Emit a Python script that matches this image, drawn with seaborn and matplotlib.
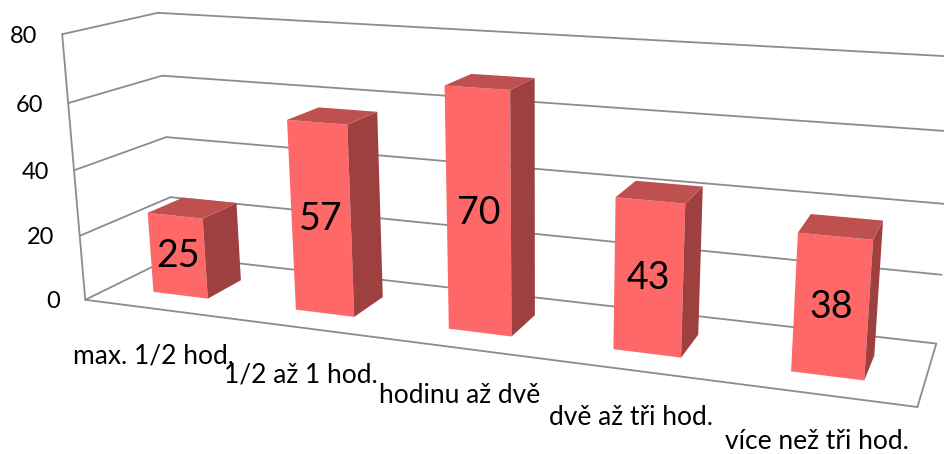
import numpy as np
import pandas as pd
import matplotlib
matplotlib.use("Agg")
import matplotlib.pyplot as plt
import matplotlib.transforms as mtransforms
from matplotlib.patches import Rectangle
import seaborn as sns

# chart values
categories = ["max. 1/2 hod.", "1/2 až 1 hod.", "hodinu až dvě", "dvě až tři hod.", "více než tři hod."]
values = [25, 57, 70, 43, 38]
y_ticks = [0, 20, 40, 60, 80]

WIDTH, HEIGHT = 945, 454
BAR_WIDTH = 0.39
Z_FRONT, Z_BACK = 0.28, 0.68
X_MIN, X_MAX = -0.5, 4.5
Y_MAX = 80

# camera calibration: box corners (category pos, value, depth) -> picture pixels
calib_3d = np.array([
    [X_MIN, 0, 0], [X_MIN, 20, 0], [X_MIN, 40, 0], [X_MIN, 60, 0], [X_MIN, 80, 0],
    [X_MIN, 0, 1], [X_MIN, 20, 1], [X_MIN, 40, 1], [X_MIN, 60, 1], [X_MIN, 80, 1],
    [X_MAX, 0, 1], [X_MAX, 40, 1], [X_MAX, 80, 1], [X_MAX, 0, 0],
], dtype=float)
calib_px = np.array([
    [83.5, 300], [80, 236], [74, 170], [69, 103], [63, 34],
    [177, 256], [170, 197], [165, 137], [162, 76], [157, 13],
    [935.7, 343.3], [948, 204], [958, 57], [917.3, 407.3],
], dtype=float)


def fit_camera(pts, px):
    # direct linear transform, p34 fixed to 1
    rows, rhs = [], []
    for (x, y, z), (u, v) in zip(pts, px):
        rows.append([x, y, z, 1, 0, 0, 0, 0, -u * x, -u * y, -u * z])
        rows.append([0, 0, 0, 0, x, y, z, 1, -v * x, -v * y, -v * z])
        rhs += [u, v]
    sol = np.linalg.lstsq(np.array(rows), np.array(rhs), rcond=None)[0]
    return np.append(sol, 1.0).reshape(3, 4)


CAMERA = fit_camera(calib_3d, calib_px)


class Plane(mtransforms.Transform):
    """Maps 2D coordinates on a plane of the box to display pixels."""
    input_dims = 2
    output_dims = 2
    is_separable = False
    has_inverse = False

    def __init__(self, to_3d):
        super().__init__()
        self.to_3d = to_3d

    def transform_non_affine(self, values):
        values = np.asarray(values, dtype=float)
        x, y, z = self.to_3d(values[:, 0], values[:, 1])
        h = CAMERA @ np.vstack([x, y, z, np.ones_like(x)])
        return np.column_stack([h[0] / h[2], HEIGHT - h[1] / h[2]])


def depth_plane(depth):
    return Plane(lambda x, y: (x, y, np.full_like(x, depth)))


sns.set_theme(style="white")
plt.rcParams["font.family"] = ["Lato", "DejaVu Sans"]

df = pd.DataFrame({"kategorie": categories, "pocet": values})

fig = plt.figure(figsize=(WIDTH / 100, HEIGHT / 100), dpi=100, facecolor="white")
ax = fig.add_axes([0, 0, 1, 1])
sns.barplot(data=df, x="kategorie", y="pocet", color="#FF6868", saturation=1,
            width=BAR_WIDTH, errorbar=None, ax=ax)
ax.set_axis_off()

LINE = dict(color="#8C8C8C", lw=1.3, zorder=1, solid_capstyle="round")
wall_front = depth_plane(0.0)
wall_back = depth_plane(1.0)
left_wall = Plane(lambda z, y: (np.full_like(z, X_MIN), y, z))
right_floor = Plane(lambda x, z: (np.full_like(x, X_MAX), np.zeros_like(x), z))

# gridlines on back wall and left wall
for tick in y_ticks:
    ax.plot([X_MIN, X_MAX], [tick, tick], transform=wall_back, **LINE)
    ax.plot([0, 1], [tick, tick], transform=left_wall, **LINE)
    ax.annotate(str(tick), xy=(X_MIN, tick), xycoords=wall_front, xytext=(-25, -2),
                textcoords="offset pixels", ha="right", va="center", fontsize=17, color="black")
ax.plot([X_MIN, X_MIN], [0, Y_MAX], transform=wall_front, **LINE)
ax.plot([X_MIN, X_MAX], [0, 0], transform=wall_front, **LINE)
ax.plot([0, 1], [0, 1], transform=right_floor, **LINE)

# seaborn draws the front faces, side and top faces follow from them
for i, bar in enumerate(list(ax.patches)):
    x0, w, h = bar.get_x(), bar.get_width(), bar.get_height()
    bar.set_transform(depth_plane(Z_FRONT))
    bar.set_linewidth(0)
    bar.set_zorder(3)
    side = Plane(lambda z, y, xr=x0 + w: (np.full_like(z, xr), y, z))
    top = Plane(lambda x, z, yt=h: (x, np.full_like(x, yt), z))
    ax.add_patch(Rectangle((Z_FRONT, 0), Z_BACK - Z_FRONT, h, transform=side,
                           facecolor="#9E4040", linewidth=0, zorder=3))
    ax.add_patch(Rectangle((x0, Z_FRONT), w, Z_BACK - Z_FRONT, transform=top,
                           facecolor="#BE5050", linewidth=0, zorder=3))
    ax.annotate(str(values[i]), xy=(i, h / 2), xycoords=depth_plane(Z_FRONT),
                ha="center", va="center", fontsize=27, color="black", zorder=4)
    ax.annotate(categories[i], xy=(i, 0), xycoords=wall_front, xytext=(-2, -55),
                textcoords="offset pixels", ha="center", va="baseline",
                fontsize=19, color="black", zorder=4)

fig.savefig("out.png", dpi=100, facecolor="white")
